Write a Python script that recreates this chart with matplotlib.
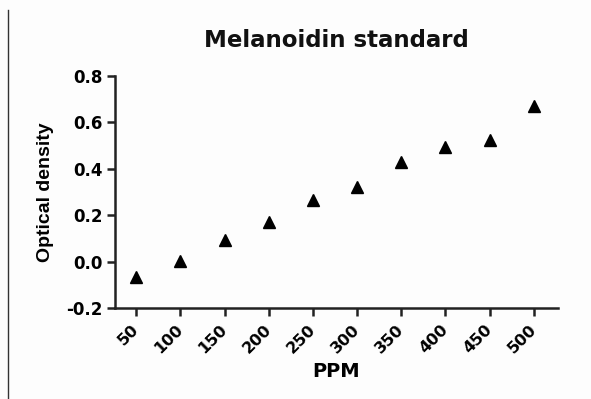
import matplotlib
matplotlib.use("Agg")
import matplotlib.pyplot as plt
from matplotlib.lines import Line2D

ppm = [50, 100, 150, 200, 250, 300, 350, 400, 450, 500]
od = [-0.068, 0.003, 0.095, 0.17, 0.265, 0.322, 0.428, 0.495, 0.525, 0.672]
yticks = [-0.2, 0.0, 0.2, 0.4, 0.6, 0.8]
ytick_labels = ["-0.2", "0.0", "0.2", "0.4", "0.6", "0.8"]

plt.rcParams['font.family'] = ['DejaVu Sans']

fig = plt.figure(figsize=(5.91, 3.99), dpi=100)
fig.patch.set_facecolor('#fdfdfd')
ax = fig.add_axes([0.1946, 0.228, 0.749, 0.5815])
ax.set_facecolor('#fdfdfd')

ax.plot(ppm, od, linestyle='none', marker='^', color='black', markersize=8.5)

ax.set_xlim(26, 527)
ax.set_ylim(-0.2, 0.8)
ax.set_xticks(ppm)
ax.set_xticklabels([str(v) for v in ppm], rotation=45, ha='right', va='center',
                   rotation_mode='anchor', fontsize=11.5, fontweight='bold')
ax.set_yticks(yticks)
ax.set_yticklabels(ytick_labels, fontsize=12, fontweight='bold')
for s in ['top', 'right']:
    ax.spines[s].set_visible(False)
for s in ['left', 'bottom']:
    ax.spines[s].set_linewidth(1.8)
ax.spines['left'].set_color('#222222')
ax.spines['bottom'].set_color('#222222')
ax.tick_params(axis='both', length=6, width=1.8, color='#222222', pad=3)
ax.tick_params(axis='x', pad=8)

ax.set_title('Melanoidin standard', fontsize=16.5, fontweight='bold', pad=21,
             color='#111111')
ax.set_xlabel('PPM', fontsize=14, fontweight='bold', labelpad=4)
ax.set_ylabel('Optical density', fontsize=14, fontweight='bold',
              family=['Liberation Sans'], labelpad=9)

fig.add_artist(Line2D([8/591, 8/591], [0, 1 - 10/399], transform=fig.transFigure,
                      color='#333333', linewidth=1.0))

fig.savefig('out.png', dpi=100, facecolor=fig.get_facecolor())
